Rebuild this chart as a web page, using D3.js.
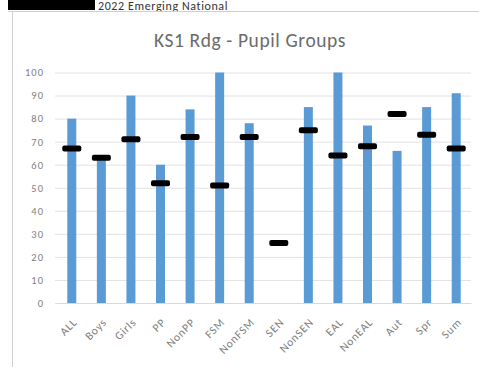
<!DOCTYPE html>
<html><head><meta charset="utf-8">
<script src="https://cdn.jsdelivr.net/npm/d3@7"></script>
<style>body{margin:0;background:#fff;}svg{display:block;}</style>
</head><body>
<script>
const categories = ["ALL","Boys","Girls","PP","NonPP","FSM","NonFSM","SEN","NonSEN","EAL","NonEAL","Aut","Spr","Sum"];
const schoolValues = [80,62,90,60,84,100,78,0,85,100,77,66,85,91];
const nationalValues = [67,63,71,52,72,51,72,26,75,64,68,82,73,67];
const yTicks = [0,10,20,30,40,50,60,70,80,90,100];
const titleText = "KS1 Rdg - Pupil Groups";
const headerText = "2022 Emerging National";

const W = 479, H = 367;
const svg = d3.select("body").append("svg").attr("width", W).attr("height", H);
const font = "Calibri, Carlito, 'Open Sans', 'Liberation Sans', sans-serif";

// header strip
svg.append("rect").attr("x", 8).attr("y", 0).attr("width", 87).attr("height", 10).attr("fill", "#000");
svg.append("text").attr("x", 98).attr("y", 9.5).attr("font-family", font).attr("font-size", 12)
  .attr("letter-spacing", 0.6).attr("fill", "#333").text(headerText);
svg.append("line").attr("x1", 8).attr("x2", W).attr("y1", 11.5).attr("y2", 11.5).attr("stroke", "#cfcfcf");
svg.append("line").attr("x1", 12.5).attr("x2", 12.5).attr("y1", 11).attr("y2", H).attr("stroke", "#d0d0d0");

svg.append("text").attr("x", 250).attr("y", 47).attr("text-anchor", "middle")
  .attr("font-family", font).attr("font-size", 19.5).attr("letter-spacing", 0.6)
  .attr("fill", "#6b6b6b").text(titleText);

const x = d3.scaleBand().domain(categories).range([57, 471]);
const y = d3.scaleLinear().domain([0, 100]).range([303, 72.5]);

// gridlines
svg.append("g").selectAll("line").data(yTicks).join("line")
  .attr("x1", 55).attr("x2", 471).attr("y1", d => y(d) + 0.5).attr("y2", d => y(d) + 0.5)
  .attr("stroke", "#e2e2e2");

const yAxis = svg.append("g").attr("transform", "translate(57,0)")
  .call(d3.axisLeft(y).tickValues(yTicks).tickSize(0).tickPadding(13));
yAxis.select(".domain").remove();
yAxis.selectAll("text").attr("font-family", font).attr("font-size", 10.5)
  .attr("letter-spacing", 1).attr("fill", "#808080");

const bw = 9;
svg.append("g").selectAll("rect").data(categories).join("rect")
  .attr("x", (d) => x(d) + x.bandwidth() / 2 - bw / 2)
  .attr("width", bw)
  .attr("y", (d, i) => y(schoolValues[i]))
  .attr("height", (d, i) => y(0) - y(schoolValues[i]))
  .attr("fill", "#5b9bd5");

svg.append("g").selectAll("rect").data(categories).join("rect")
  .attr("x", (d) => x(d) + x.bandwidth() / 2 - 9.5)
  .attr("width", 19)
  .attr("y", (d, i) => y(nationalValues[i]) - 3)
  .attr("height", 6)
  .attr("rx", 2)
  .attr("fill", "#000");

const xAxis = svg.append("g").attr("transform", "translate(0,303)")
  .call(d3.axisBottom(x).tickSize(0).tickPadding(0));
xAxis.select(".domain").attr("stroke", "#d9d9d9");
xAxis.selectAll("text")
  .attr("font-family", font).attr("font-size", 11.5).attr("letter-spacing", 0.8)
  .attr("fill", "#808080")
  .attr("text-anchor", "end").attr("dy", "0")
  .attr("transform", "translate(6,20) rotate(-45)");
</script>
</body></html>
